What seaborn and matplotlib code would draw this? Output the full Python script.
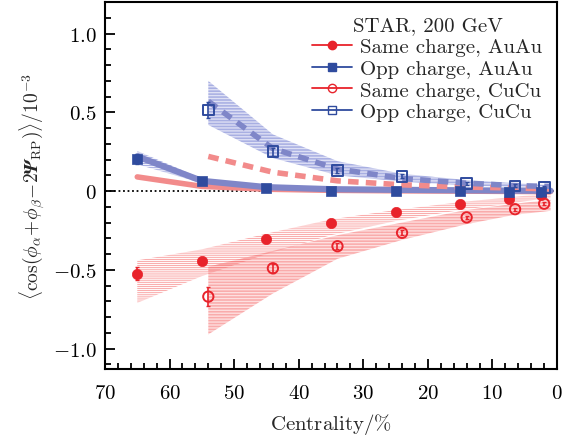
import numpy as np
import matplotlib
matplotlib.use("Agg")
import matplotlib.pyplot as plt
import seaborn as sns
import pandas as pd
from matplotlib.lines import Line2D
from matplotlib.ticker import MultipleLocator, FixedLocator, FixedFormatter

# ---------------- data ----------------
x_auau = [65, 55, 45, 35, 25, 15, 7.5, 2.5]
same_auau = [-0.525, -0.445, -0.305, -0.205, -0.135, -0.08, -0.05, -0.025]
same_auau_err = [0.04, 0.02, 0.015, 0.012, 0.01, 0.01, 0.01, 0.01]
opp_auau = [0.205, 0.064, 0.02, 0.0, 0.0, 0.0, -0.003, -0.005]
opp_auau_err = [0.03, 0.015, 0.01, 0.01, 0.01, 0.01, 0.01, 0.01]

x_cucu = [54, 44, 34, 24, 14, 6.5, 2]
same_cucu = [-0.67, -0.49, -0.35, -0.265, -0.167, -0.115, -0.08]
same_cucu_err = [0.06, 0.03, 0.02, 0.015, 0.012, 0.01, 0.01]
opp_cucu = [0.515, 0.25, 0.133, 0.095, 0.05, 0.033, 0.025]
opp_cucu_err = [0.05, 0.025, 0.015, 0.012, 0.01, 0.01, 0.01]

# model curves / bands
mx_auau = [65, 55, 45, 35, 25, 15, 7.5, 2.5, 1]
model_opp_auau = [0.22, 0.065, 0.025, 0.012, 0.008, 0.005, 0.003, 0.002, 0.002]
model_opp_auau_lo = [0.17, 0.05, 0.015, 0.006, 0.004, 0.002, 0.001, 0.0, 0.0]
model_opp_auau_hi = [0.255, 0.08, 0.035, 0.018, 0.012, 0.008, 0.006, 0.004, 0.004]
model_same_auau = [0.09, 0.03, 0.012, 0.005, 0.002, 0.0, -0.002, -0.003, -0.003]
band_same_auau_hi = [-0.44, -0.37, -0.27, -0.18, -0.12, -0.07, -0.04, -0.02, -0.015]
band_same_auau_lo = [-0.71, -0.54, -0.40, -0.28, -0.19, -0.12, -0.08, -0.05, -0.045]

mx_cucu = [54, 44, 34, 24, 14, 6.5, 2, 1]
model_opp_cucu = [0.57, 0.27, 0.14, 0.08, 0.05, 0.035, 0.03, 0.03]
band_opp_cucu_hi = [0.70, 0.36, 0.19, 0.11, 0.07, 0.05, 0.04, 0.04]
band_opp_cucu_lo = [0.42, 0.21, 0.10, 0.06, 0.035, 0.025, 0.02, 0.02]
model_same_cucu = [0.22, 0.12, 0.065, 0.04, 0.025, 0.02, 0.015, 0.015]
band_same_cucu_hi = [-0.48, -0.38, -0.28, -0.20, -0.12, -0.08, -0.06, -0.055]
band_same_cucu_lo = [-0.91, -0.65, -0.43, -0.31, -0.21, -0.15, -0.13, -0.125]

x_ticks = [70, 60, 50, 40, 30, 20, 10, 0]
y_ticks = [-1.0, -0.5, 0.0, 0.5, 1.0]
y_ticklabels = [r"$-1.0$", r"$-0.5$", r"$0$", r"$0.5$", r"$1.0$"]
legend_title = "STAR, 200 GeV"
legend_labels = ["Same charge, AuAu", "Opp charge, AuAu", "Same charge, CuCu", "Opp charge, CuCu"]

# ---------------- style ----------------
sns.set_style("ticks")
plt.rcParams["font.family"] = ["serif"]
plt.rcParams["font.serif"] = ["cmr10", "DejaVu Serif"]
plt.rcParams["mathtext.fontset"] = "cm"
plt.rcParams["axes.formatter.use_mathtext"] = True
plt.rcParams["hatch.linewidth"] = 0.5

RED = "#e8232b"
BLUE = "#2f4b9e"
LRED = "#f28b8b"
LBLUE = "#7f86c8"
HRED = (0.96, 0.42, 0.42, 0.75)
HBLUE = (0.40, 0.45, 0.80, 0.75)

FS = 15

fig = plt.figure(figsize=(5.69, 4.39), dpi=100)
ax = fig.add_axes([0.1845, 0.157, 0.7945, 0.836])

# bands
ax.fill_between(mx_auau, band_same_auau_lo, band_same_auau_hi, facecolor=(1, 0.3, 0.3, 0.04),
                edgecolor=HRED, hatch="--------", linewidth=0, zorder=1)
ax.fill_between(mx_cucu, band_same_cucu_lo, band_same_cucu_hi, facecolor=(1, 0.3, 0.3, 0.08),
                edgecolor=HRED, hatch="-----------", linewidth=0, zorder=1)
ax.fill_between(mx_cucu, band_opp_cucu_lo, band_opp_cucu_hi, facecolor=(0.3, 0.35, 0.8, 0.08),
                edgecolor=HBLUE, hatch="-----------", linewidth=0, zorder=1)
ax.fill_between(mx_auau, model_opp_auau_lo, model_opp_auau_hi, facecolor=(0.3, 0.35, 0.8, 0.08),
                edgecolor=HBLUE, hatch="--------", linewidth=0, zorder=1)

# zero line
ax.axhline(0, color="black", linestyle=(0, (1, 1.5)), linewidth=1.3, zorder=2)

# model lines
df_m_au = pd.DataFrame({"x": mx_auau, "opp": model_opp_auau, "same": model_same_auau})
df_m_cu = pd.DataFrame({"x": mx_cucu, "opp": model_opp_cucu, "same": model_same_cucu})
sns.lineplot(data=df_m_au, x="x", y="same", ax=ax, color=LRED, linewidth=4, zorder=3, sort=False)
sns.lineplot(data=df_m_au, x="x", y="opp", ax=ax, color=LBLUE, linewidth=4.5, zorder=3, sort=False)
sns.lineplot(data=df_m_cu, x="x", y="same", ax=ax, color=LRED, linewidth=4, zorder=3, sort=False)
ax.lines[-1].set_dashes([1.9, 1.3])
sns.lineplot(data=df_m_cu, x="x", y="opp", ax=ax, color=LBLUE, linewidth=4, zorder=3, sort=False)
ax.lines[-1].set_dashes([1.9, 1.3])

# data points
for xs, ys, es, c in [(x_auau, same_auau, same_auau_err, RED), (x_auau, opp_auau, opp_auau_err, BLUE),
                      (x_cucu, same_cucu, same_cucu_err, RED), (x_cucu, opp_cucu, opp_cucu_err, BLUE)]:
    ax.errorbar(xs, ys, yerr=es, fmt="none", ecolor=c, elinewidth=1.2, capsize=1.5, capthick=1.0, zorder=4)

sns.scatterplot(x=x_auau, y=same_auau, ax=ax, marker="o", s=55, color=RED, edgecolor=RED, linewidth=0.5, zorder=5)
sns.scatterplot(x=x_auau, y=opp_auau, ax=ax, marker="s", s=55, color=BLUE, edgecolor=BLUE, linewidth=0.5, zorder=5)
sns.scatterplot(x=x_cucu, y=same_cucu, ax=ax, marker="o", s=55, facecolor="none", edgecolor=RED, linewidth=1.4, zorder=5)
sns.scatterplot(x=x_cucu, y=opp_cucu, ax=ax, marker="s", s=60, facecolor="none", edgecolor=BLUE, linewidth=1.4, zorder=5)

# axes
ax.set_xlim(70, 0)
ax.set_ylim(-1.13, 1.2)
ax.xaxis.set_major_locator(FixedLocator(x_ticks))
ax.xaxis.set_minor_locator(MultipleLocator(2))
ax.yaxis.set_major_locator(FixedLocator(y_ticks))
ax.yaxis.set_major_formatter(FixedFormatter(y_ticklabels))
ax.yaxis.set_minor_locator(MultipleLocator(0.1))
ax.set_xticklabels([rf"${t}$" for t in x_ticks])
ax.tick_params(which="both", direction="in", top=False, right=False, labelsize=FS, width=1.3, colors="black")
ax.tick_params(which="major", length=7)
ax.tick_params(which="minor", length=4)
ax.tick_params(axis="y", which="major", pad=6)
ax.tick_params(axis="x", which="major", pad=11)
for s in ax.spines.values():
    s.set_linewidth(1.5)
    s.set_color("black")

ax.set_xlabel(r"Centrality$/\%$", fontsize=FS, labelpad=6)
ax.set_ylabel(r"$\langle\cos(\phi_\alpha\!+\!\phi_\beta\!-\!\mathbf{2}\mathbfit{\Psi}_{\rm RP})\rangle/10^{-3}$", fontsize=14, labelpad=4)

handles = [
    Line2D([], [], color=RED, marker="o", markersize=6, markerfacecolor=RED, linewidth=1.3),
    Line2D([], [], color=BLUE, marker="s", markersize=6, markerfacecolor=BLUE, linewidth=1.3),
    Line2D([], [], color=RED, marker="o", markersize=6, markerfacecolor="none", linewidth=1.3),
    Line2D([], [], color=BLUE, marker="s", markersize=6, markerfacecolor="none", linewidth=1.3),
]
leg = ax.legend(handles, legend_labels, title=legend_title, loc="upper right",
                bbox_to_anchor=(1.0, 1.0), frameon=False, fontsize=FS, title_fontsize=FS,
                handlelength=1.9, handletextpad=0.4, labelspacing=0.15, borderaxespad=0.3,
                borderpad=0.4)

fig.savefig("out.png", dpi=100)
